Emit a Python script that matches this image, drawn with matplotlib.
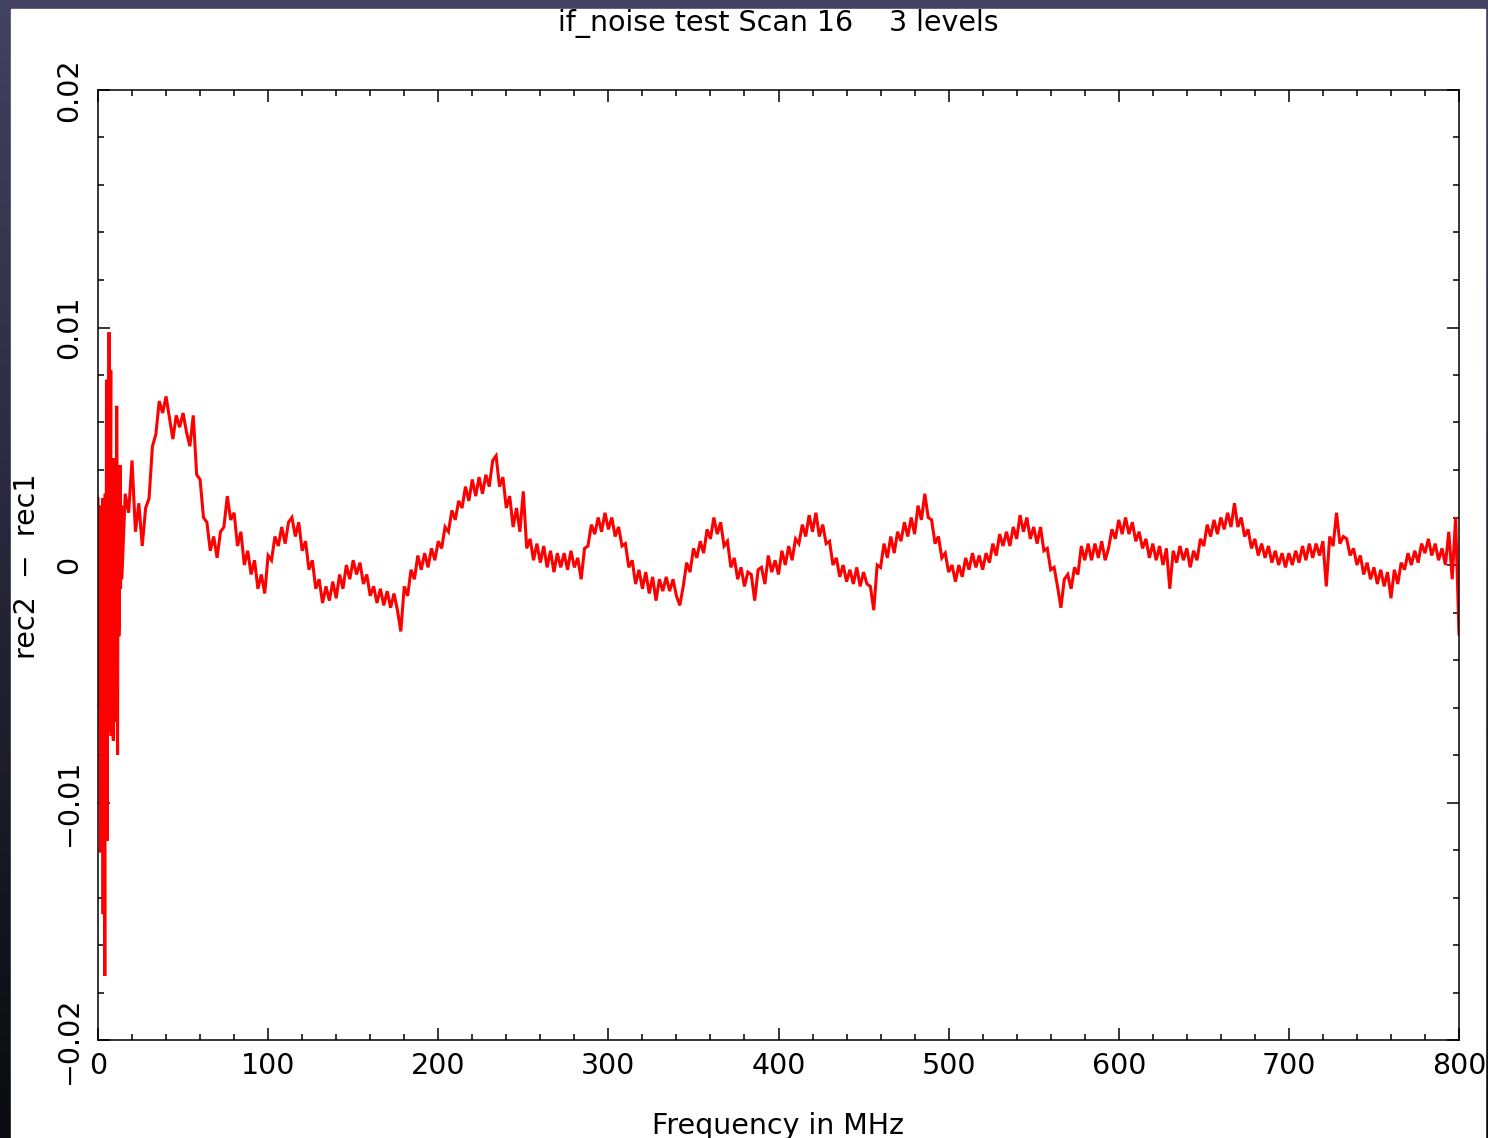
import numpy as np
import matplotlib
matplotlib.use('Agg')
from matplotlib import pyplot as plt
from matplotlib.patches import Rectangle
from matplotlib.ticker import MultipleLocator

###########################
# texts
Titre = 'if_noise test Scan 16    3 levels'
Titre_X = 'Frequency in MHz'
Titre_Y = 'rec2  \u2212  rec1'

# first channels, 0.25 MHz apart (rec2 - rec1, units of 1e-4)
freq_debut = np.arange(0, 14, 0.25)
diff_debut = [28, -60, -45, 25,       # 0
              15, -70, -121, 20,      # 1
              5, -65, -70, 28,        # 2
              -147, 25, 20, -72,      # 3
              -173, 30, 10, -68,      # 4
              78, -60, -116, 32,      # 5
              30, -70, 98, -50,       # 6
              -65, 35, 82, -72,       # 7
              -55, 30, 35, -68,       # 8
              -74, 30, 45, -60,       # 9
              -50, 32, 40, -66,       # 10
              67, -55, -80, 20,       # 11
              35, -30, -25, 30,       # 12
              42, -10, 12, 25]        # 13

# rest of the band, 2 MHz apart (units of 1e-4)
freq_suite = np.arange(14, 801, 2)
diff_suite = [
    -6, 30, 22, 44, 14, 26, 8, 24, 28, 50,           # 14-32
    55, 69, 64, 71, 62, 53, 63, 58, 64, 56,          # 34-52
    50, 63, 38, 36, 20, 18, 6, 12, 3, 14,            # 54-72
    16, 29, 19, 22, 8, 14, 0, 6, -4, 2,              # 74-92
    -10, -4, -12, 4, 2, 12, 8, 16, 9, 18,            # 94-112
    20, 12, 18, 6, 10, -2, 2, -10, -6, -16,          # 114-132
    -9, -15, -7, -14, -4, -10, 0, -6, 2, -4,         # 134-152
    1, -8, -4, -13, -9, -16, -10, -17, -11, -18,     # 154-172
    -12, -19, -28, -9, -13, -2, -6, 4, -2, 5,        # 174-192
    -1, 7, 2, 10, 7, 16, 14, 23, 19, 27,             # 194-212
    24, 33, 27, 36, 29, 37, 30, 38, 33, 44,          # 214-232
    46, 33, 37, 24, 29, 16, 24, 14, 31, 7,           # 234-252
    11, 2, 9, 1, 8, -1, 6, -3, 5, -1,                # 254-272
    5, -2, 6, -1, 3, -6, 7, 8, 17, 13,               # 274-292
    20, 14, 22, 15, 20, 12, 16, 8, 9, -1,            # 294-312
    2, -8, -2, -10, -3, -12, -5, -15, -6, -11,       # 314-332
    -5, -11, -6, -13, -17, -9, 1, -3, 7, 3,          # 334-352
    10, 5, 15, 11, 20, 13, 18, 8, 10, -1,            # 354-372
    3, -6, -1, -9, -3, -4, -15, -2, -1, -8,          # 374-392
    4, -3, 2, -4, 6, 0, 8, 2, 11, 9,                 # 394-412
    17, 12, 21, 14, 22, 12, 17, 9, 10, 0,            # 414-432
    3, -5, 0, -7, -2, -8, -1, -9, -3, -8,            # 434-452
    -9, -19, 0, -1, 9, 3, 12, 5, 14, 10,             # 454-472
    18, 12, 20, 13, 25, 19, 30, 20, 19, 9,           # 474-492
    12, 3, 5, -3, 0, -7, 0, -5, 3, -2,               # 494-512
    5, -1, 4, -2, 5, 1, 9, 4, 13, 8,                 # 514-532
    14, 8, 16, 11, 21, 14, 20, 11, 16, 9,            # 534-552
    16, 6, 7, -2, -1, -9, -18, -6, -4, -10,          # 554-572
    -1, -4, 8, 2, 9, 2, 9, 3, 10, 2,                 # 574-592
    7, 15, 11, 19, 13, 20, 13, 18, 10, 14,           # 594-612
    7, 11, 3, 9, 2, 8, 0, 7, -10, 6,                 # 614-632
    1, 8, 2, 7, -1, 6, 2, 11, 8, 17,                 # 634-652
    12, 19, 13, 20, 15, 22, 16, 26, 16, 20,          # 654-672
    12, 15, 7, 11, 4, 9, 3, 8, 1, 6,                 # 674-692
    0, 5, -1, 5, 0, 6, 1, 8, 2, 9,                   # 694-712
    3, 9, 4, 10, -9, 12, 8, 22, 9, 12,               # 714-732
    11, 4, 7, 0, 4, -4, 1, -6, -1, -8,               # 734-752
    -2, -9, -3, -14, -2, -8, 1, -2, 5, 0,            # 754-772
    6, 1, 9, 5, 11, 4, 9, 2, 7, 0,                   # 774-792
    14, -6, 20, -29,                                 # 794-800
]

Y_ticks = [-0.02, -0.01, 0, 0.01, 0.02]
Y_labels = ['\u22120.02', '\u22120.01', '0', '0.01', '0.02']
X_ticks = [0, 100, 200, 300, 400, 500, 600, 700, 800]
Taille_texte = 20.5

X = np.concatenate([freq_debut, freq_suite])
Y = np.array(diff_debut + diff_suite) * 1e-4

W, H = 1488, 1138
fig = plt.figure(figsize=(W / 100, H / 100), dpi=100)

# dark frame round the page, lighter at the top
fond = fig.add_axes([0, 0, 1, 1], zorder=0)
haut = np.array([66, 66, 98]) / 255
bas = np.array([10, 10, 16]) / 255
t = np.linspace(0, 1, 256)[:, None]
degrade = (haut * (1 - t) + bas * t)[:, None, :]
fond.imshow(degrade, aspect='auto', extent=[0, 1, 0, 1])
fond.add_patch(Rectangle((11 / W, 0), (1485 - 11) / W, 1 - 9 / H,
                         transform=fond.transAxes, color='white'))
fond.set_xlim(0, 1)
fond.set_ylim(0, 1)
fond.axis('off')

ax = fig.add_axes([98 / W, 1 - 1040 / H, (1459 - 98) / W, (1040 - 90) / H], zorder=1)
ax.plot(X, Y, '-', color='#ff0000', lw=2.2, solid_joinstyle='miter')

ax.set_xlim(0, 800)
ax.set_ylim(-0.02, 0.02)
ax.set_xticks(X_ticks)
ax.set_xticklabels([str(v) for v in X_ticks])
ax.set_yticks(Y_ticks)
ax.set_yticklabels(Y_labels, rotation=90, va='center')
ax.xaxis.set_minor_locator(MultipleLocator(20))
ax.yaxis.set_minor_locator(MultipleLocator(0.002))
ax.tick_params(which='both', direction='in', top=True, right=True, width=1.1, color='black')
ax.tick_params(which='major', length=8.5, labelsize=Taille_texte)
ax.tick_params(which='minor', length=4.3)
ax.tick_params(axis='x', pad=9)
ax.tick_params(axis='y', pad=11)
for s in ax.spines.values():
    s.set_linewidth(1.1)

fig.text(778 / W, 1 - 23 / H, Titre, ha='center', va='center', fontsize=Taille_texte)
fig.text(778 / W, 1 - 1126 / H, Titre_X, ha='center', va='center', fontsize=Taille_texte)
fig.text(27 / W, 1 - 566 / H, Titre_Y, ha='center', va='center', fontsize=Taille_texte,
         rotation=90)

fig.savefig('out.png', dpi=100)
